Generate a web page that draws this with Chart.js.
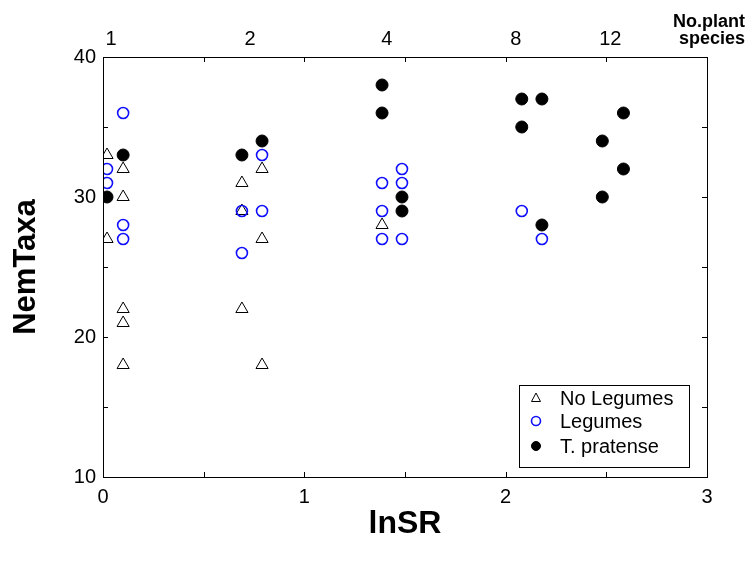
<!DOCTYPE html>
<html>
<head>
<meta charset="utf-8">
<script src="https://cdn.jsdelivr.net/npm/chart.js@4.4.0/dist/chart.umd.min.js"></script>
<style>
    body { margin: 0; background: #fff; }
    #wrap { width: 747px; height: 561px; }
</style>
</head>
<body>
<div id="wrap"><canvas id="nemChart"></canvas></div>
<script>
// DATA (x = ln of species richness, slightly jittered per treatment)
const noLegX = [0.02, 0.02, 0.1, 0.1, 0.1, 0.1, 0.1, 0.79, 0.69, 0.69, 0.79, 0.69, 0.79, 1.386];
const noLegY = [33, 27, 32, 30, 22, 21, 18, 32, 31, 29, 27, 22, 18, 28];

const legX = [0.02, 0.02, 0.1, 0.1, 0.1, 0.79, 0.69, 0.79, 0.69, 1.485, 1.386, 1.485, 1.386, 1.386, 1.485, 2.08, 2.18];
const legY = [32, 31, 36, 28, 27, 33, 29, 29, 26, 32, 31, 31, 29, 27, 27, 29, 27];

const tpX = [0.02, 0.1, 0.69, 0.79, 1.386, 1.386, 1.485, 1.485, 2.08, 2.18, 2.08, 2.18, 2.585, 2.48, 2.585, 2.48];
const tpY = [30, 33, 33, 34, 38, 36, 30, 29, 37, 37, 35, 28, 36, 34, 32, 30];

// top axis: number of plant species
const topTickPos = [0.04, 0.73, 1.41, 2.05, 2.52];
const topTickLabels = ["1", "2", "4", "8", "12"];

const FONT = "'Liberation Sans', Arial, sans-serif";

function toPoints(xs, ys) {
    return xs.map((x, i) => ({ x: x, y: ys[i] }));
}

// inward tick marks, frame, legend box and corner note
const framePlugin = {
    id: "frame",
    afterDraw(chart) {
        const ctx = chart.ctx;
        const a = chart.chartArea;
        const xs = chart.scales.x;
        const ys = chart.scales.y;
        const len = 5;

        ctx.save();
        ctx.strokeStyle = "#000";
        ctx.lineWidth = 1;
        ctx.strokeRect(a.left + 0.5, a.top + 0.5, a.right - a.left, a.bottom - a.top);

        ctx.beginPath();
        xs.ticks.forEach(t => {
            const px = Math.round(xs.getPixelForValue(t.value)) + 0.5;
            ctx.moveTo(px, a.bottom);
            ctx.lineTo(px, a.bottom - len);
            ctx.moveTo(px, a.top);
            ctx.lineTo(px, a.top + len);
        });
        ys.ticks.forEach(t => {
            const py = Math.round(ys.getPixelForValue(t.value)) + 0.5;
            ctx.moveTo(a.left, py);
            ctx.lineTo(a.left + len, py);
            ctx.moveTo(a.right, py);
            ctx.lineTo(a.right - len, py);
        });
        ctx.stroke();

        // LEGEND
        const bx = 519, by = 385, bw = 170, bh = 82;
        ctx.fillStyle = "#fff";
        ctx.fillRect(bx, by, bw, bh);
        ctx.strokeRect(bx + 0.5, by + 0.5, bw, bh);
        const rowsY = [398, 421, 446];
        ctx.font = "20px " + FONT;
        ctx.textBaseline = "middle";
        ctx.textAlign = "left";
        chart.data.datasets.forEach((ds, i) => {
            const cy = rowsY[i];
            ctx.fillStyle = ds.backgroundColor;
            ctx.strokeStyle = ds.borderColor;
            ctx.lineWidth = ds.borderWidth;
            ctx.beginPath();
            if (ds.pointStyle === "triangle") {
                ctx.moveTo(536, cy - 5);
                ctx.lineTo(540.5, cy + 3.5);
                ctx.lineTo(531.5, cy + 3.5);
                ctx.closePath();
            } else {
                ctx.arc(536, cy, 4.5, 0, Math.PI * 2);
            }
            ctx.fill();
            ctx.stroke();
            ctx.fillStyle = "#000";
            ctx.fillText(ds.label, 560, cy + 1);
        });

        // corner note
        ctx.font = "bold 18px " + FONT;
        ctx.textAlign = "right";
        ctx.textBaseline = "alphabetic";
        ctx.fillStyle = "#000";
        ctx.fillText("No.plant", 745, 27);
        ctx.fillText("species", 745, 44);
        ctx.restore();
    }
};

const tickFont = { family: FONT, size: 20 };

new Chart(document.getElementById("nemChart"), {
    type: "scatter",
    data: {
        datasets: [
            {
                label: "No Legumes",
                data: toPoints(noLegX, noLegY),
                pointStyle: "triangle",
                pointRadius: 7,
                backgroundColor: "rgba(255,255,255,0)",
                borderColor: "#000",
                borderWidth: 1,
                order: 1
            },
            {
                label: "Legumes",
                data: toPoints(legX, legY),
                pointStyle: "circle",
                pointRadius: 5.5,
                backgroundColor: "rgba(255,255,255,0)",
                borderColor: "#1010ff",
                borderWidth: 1.6,
                order: 0
            },
            {
                label: "T. pratense",
                data: toPoints(tpX, tpY),
                pointStyle: "circle",
                pointRadius: 6,
                backgroundColor: "#000",
                borderColor: "#000",
                borderWidth: 1,
                order: 2
            }
        ]
    },
    options: {
        responsive: true,
        maintainAspectRatio: false,
        animation: false,
        layout: { padding: { left: 0, right: 40, top: 0, bottom: 0 } },
        plugins: {
            legend: { display: false },
            tooltip: { enabled: false }
        },
        scales: {
            x: {
                type: "linear",
                position: "bottom",
                min: 0,
                max: 3,
                grid: { display: false, drawTicks: false },
                border: { display: true, color: "#000" },
                ticks: {
                    stepSize: 0.5,
                    padding: 8,
                    color: "#000",
                    font: tickFont,
                    maxRotation: 0,
                    callback: v => (Number.isInteger(v) ? v : "")
                },
                title: {
                    display: true,
                    text: "lnSR",
                    color: "#000",
                    font: { family: FONT, size: 32, weight: "bold" },
                    padding: { top: 0, bottom: 18 }
                },
                afterFit: s => { s.height = 84; }
            },
            x2: {
                type: "linear",
                position: "top",
                min: 0,
                max: 3,
                grid: { display: false, drawTicks: false },
                border: { display: true, color: "#000" },
                afterBuildTicks: s => { s.ticks = topTickPos.map(v => ({ value: v })); },
                ticks: {
                    padding: 6,
                    color: "#000",
                    font: tickFont,
                    maxRotation: 0,
                    autoSkip: false,
                    callback: (v, i) => topTickLabels[i]
                },
                afterFit: s => { s.height = 57; }
            },
            y: {
                min: 10,
                max: 40,
                grid: { display: false, drawTicks: false },
                border: { display: true, color: "#000" },
                ticks: {
                    stepSize: 5,
                    padding: 7,
                    color: "#000",
                    font: tickFont,
                    callback: v => (v % 10 === 0 ? v : "")
                },
                title: {
                    display: true,
                    text: "NemTaxa",
                    color: "#000",
                    font: { family: FONT, size: 31, weight: "bold" },
                    padding: { top: 8, bottom: 0 }
                },
                afterFit: s => { s.width = 103; }
            }
        }
    },
    plugins: [framePlugin]
});
</script>
</body>
</html>
